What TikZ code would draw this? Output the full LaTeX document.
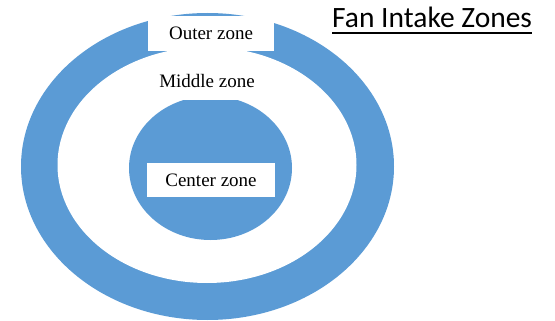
\documentclass[tikz,border=0pt]{standalone}
\usepackage{fontspec}
\setmainfont{Liberation Serif}
\newfontfamily\titlefont{Carlito}
\usetikzlibrary{shapes.geometric}
\definecolor{zoneblue}{RGB}{91,155,213}
\tikzstyle{ring} = [ellipse, inner sep=0pt, draw=none]
\tikzstyle{zonebox} = [rectangle, fill=white, inner sep=0pt, text centered, font=\fontsize{19}{23}\selectfont]

\begin{document}
\begin{tikzpicture}[x=1pt, y=-1pt]
\useasboundingbox (0,0) rectangle (555,321);

% Zones
\node (outerRing) [ring, fill=zoneblue, minimum width=373pt, minimum height=307pt] at (207.5,166.5) {};
\node (middleRing) [ring, fill=white, minimum width=299pt, minimum height=236pt] at (207,165) {};
\node (centerDisc) [ring, fill=zoneblue, minimum width=163pt, minimum height=144pt] at (210.5,168) {};

% Labels
\node (outerZone) [zonebox, minimum width=126pt, minimum height=35pt] at (211,33.5) {Outer zone};
\node (middleZone) [zonebox, minimum width=118pt, minimum height=38pt] at (207,81) {Middle zone};
\node (centerZone) [zonebox, minimum width=128pt, minimum height=34pt] at (211,180) {Center zone};

% Title
\node (title) [anchor=base west, inner sep=0pt, font=\titlefont\fontsize{29.5}{35}\selectfont] at (332,28) {Fan Intake Zones};
\draw [line width=2pt] ([yshift=-5pt]title.base west) -- ([yshift=-5pt]title.base east);

\end{tikzpicture}
\end{document}
